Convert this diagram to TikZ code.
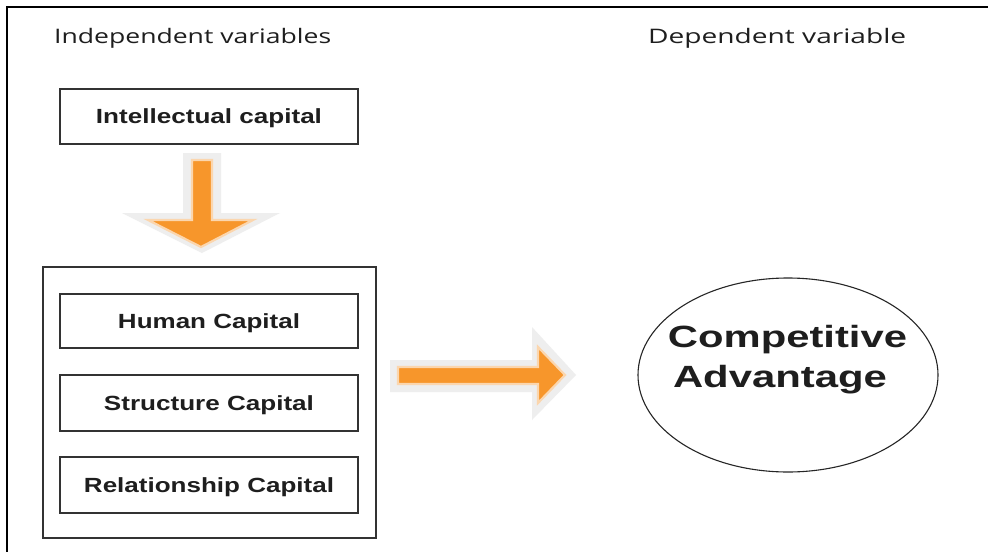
\documentclass[tikz,border=0pt]{standalone}
\usepackage{fontspec}
\setmainfont{Liberation Sans}
\newfontfamily\hdrfont{Open Sans}
\usetikzlibrary{shapes.geometric}
\newcommand{\fitw}[2]{\resizebox{#1}{\height}{#2}}
\definecolor{txt}{HTML}{1E1E1E}
\definecolor{boxline}{HTML}{333333}
\definecolor{arrowfill}{HTML}{F7962B}
\definecolor{arrowglow}{HTML}{FBD6AE}
\definecolor{arrowshadow}{HTML}{EEEEEE}
\tikzset{
  capbox/.style={draw=boxline, line width=1.4pt, inner sep=0pt, text=txt,
    font=\fontsize{20.5}{24}\selectfont\bfseries, text height=14.7pt, text depth=0pt},
  header/.style={inner sep=0pt, anchor=base west, text=txt, font=\hdrfont\fontsize{20}{24}\selectfont},
  bigtxt/.style={inner sep=0pt, anchor=base, text=txt, font=\fontsize{30.7}{36}\selectfont\bfseries},
  blockarrow/.style={fill=arrowfill, draw=arrowglow, line width=2.2pt, line join=miter},
  arrowshade/.style={fill=arrowshadow, draw=none}
}
\begin{document}
\begin{tikzpicture}[x=1pt, y=-1pt]
\useasboundingbox (0,0) rectangle (988,552);
\fill[white] (0,0) rectangle (988,552);
% outer frame (top and left)
\draw[black, line width=2pt] (988,7) -- (7,7) -- (7,552);
% headers
\node[header] (hind) at (54,43) {\fitw{277pt}{Independent variables}};
\node[header] (hdep) at (648,43) {\fitw{258pt}{Dependent variable}};
% intellectual capital
\node[capbox, minimum width=298pt, minimum height=55pt] (ic) at (209,116.5) {\fitw{226pt}{Intellectual capital}};
% group box
\node[draw=boxline, line width=1.4pt, minimum width=333pt, minimum height=271pt, inner sep=0pt] (grp) at (209.5,402.5) {};
\node[capbox, minimum width=298pt, minimum height=54pt] (hc) at (209,321) {\fitw{182pt}{Human Capital}};
\node[capbox, minimum width=298pt, minimum height=56pt] (sc) at (209,403) {\fitw{210pt}{Structure Capital}};
\node[capbox, minimum width=298pt, minimum height=56pt] (rc) at (209,485) {\fitw{250pt}{Relationship Capital}};
% competitive advantage
\node[draw=black!85, line width=1.1pt, ellipse, minimum width=300pt, minimum height=194pt, inner sep=0pt] (ca) at (788,375) {};
\node[bigtxt] (ca1) at (787.5,347) {\fitw{239pt}{Competitive}};
\node[bigtxt] (ca2) at (780,387) {\fitw{214pt}{Advantage}};
% down block arrow
\fill[arrowshade] (183,153) -- (221,153) -- (221,213) -- (280,213) -- (202,253) -- (122,213) -- (183,213) -- cycle;
\path[blockarrow] (192,160) -- (212,160) -- (212,220) -- (253,220) -- (201,247) -- (148,220) -- (192,220) -- cycle;
% right block arrow
\fill[arrowshade] (390,360) -- (532,360) -- (532,327) -- (576,375) -- (532,420) -- (532,392) -- (390,392) -- cycle;
\path[blockarrow] (398,367) -- (538,367) -- (538,347) -- (565,375) -- (538,403) -- (538,384) -- (398,384) -- cycle;
\end{tikzpicture}
\end{document}
